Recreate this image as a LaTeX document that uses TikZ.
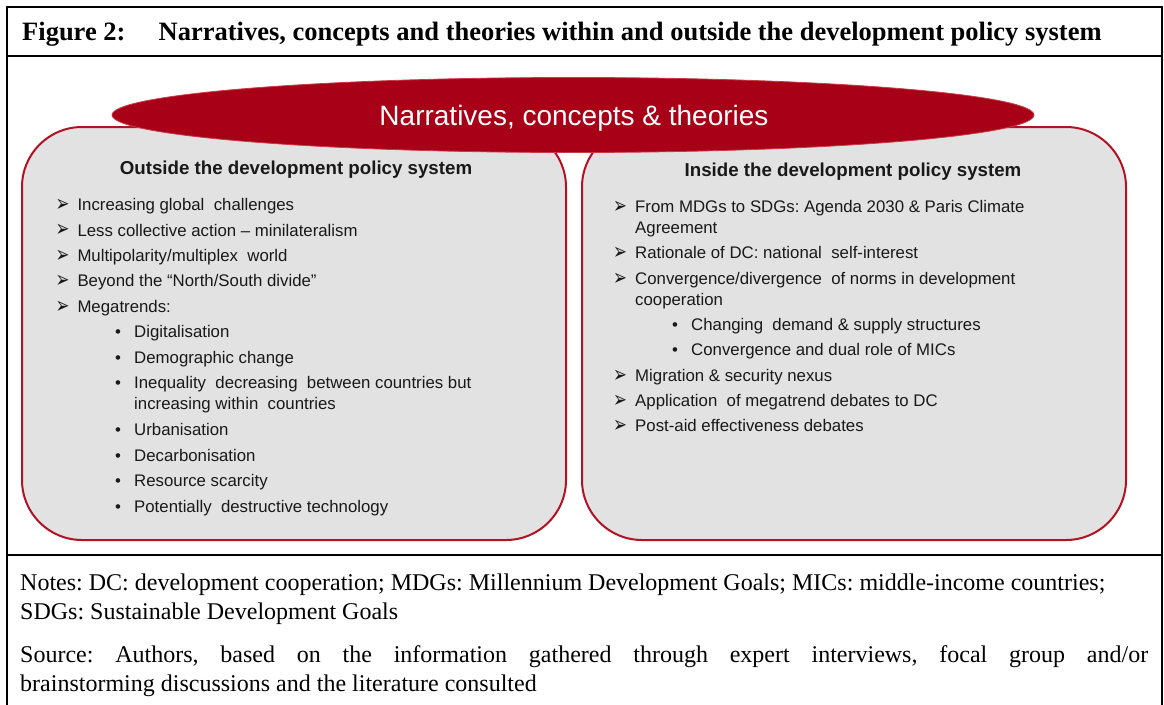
\documentclass[tikz,border=0pt]{standalone}
\usepackage{fontspec}
\setmainfont{Liberation Serif}
\setsansfont{Liberation Sans}
\newfontfamily\symfont{DejaVu Sans}
\usetikzlibrary{shapes.geometric}
\definecolor{ellred}{RGB}{168,0,22}
\definecolor{ellrim}{RGB}{200,60,72}
\definecolor{boxred}{RGB}{178,18,36}
\definecolor{boxgray}{RGB}{226,226,226}
\definecolor{txt}{RGB}{25,25,25}
\frenchspacing
\newcommand{\arrowglyph}{\scalebox{0.72}[1]{➢}}
\begin{document}
\begin{tikzpicture}[x=1pt,y=-1pt,
  frame/.style={line width=2pt,black},
  panel/.style={draw=boxred,line width=2pt,fill=boxgray,rounded corners=60pt,rectangle,inner sep=0pt},
  item/.style={anchor=base west,inner sep=0pt,font=\sffamily\fontsize{16.8}{20}\selectfont,text=txt},
  ptitle/.style={anchor=base,inner sep=0pt,font=\sffamily\bfseries\fontsize{18.7}{22}\selectfont,text=txt},
  arrowb/.style={anchor=base west,inner sep=0pt,font=\symfont\fontsize{23}{24}\selectfont,text=txt},
  dotb/.style={anchor=base west,inner sep=0pt,font=\sffamily\fontsize{16.8}{20}\selectfont,text=txt},
  note/.style={anchor=base west,inner sep=0pt,font=\fontsize{24}{29}\selectfont,text=black},
  head/.style={anchor=base west,inner sep=0pt,font=\bfseries\fontsize{26.5}{30}\selectfont,text=black},
]
\useasboundingbox (0,0) rectangle (1164,704);
\fill[white] (0,0) rectangle (1164,704);
% frame
\draw[frame] (7,720) -- (7,7) -- (1162,7) -- (1162,720);
\draw[frame] (7,56) -- (1162,56);
\draw[frame] (7,555) -- (1162,555);
% header
\node[head] (fig) at (22,40.7) {Figure 2:};
\node[head] (figtitle) at (158.5,40.7) {Narratives, concepts and theories within and outside the development policy system};
% panels
\node[panel,minimum width=544pt,minimum height=413pt] (left) at (294,333.5) {};
\node[panel,minimum width=544pt,minimum height=413pt] (right) at (854,333.5) {};
% ellipse
\node[ellipse,fill=ellred,draw=ellrim,line width=0.8pt,minimum width=922pt,minimum height=75pt,inner sep=0pt] (ell) at (573,115) {};
\node[anchor=base,inner sep=0pt,font=\sffamily\fontsize{28}{32}\selectfont,text=white] (elltext) at (574,125) {Narratives, concepts \& theories};
% left panel
\node[ptitle] (ltitle) at (296,174.5) {Outside the development policy system};
\node[arrowb] (la1) at (55.5,211.5) {\arrowglyph};
\node[item] (lt1) at (77.3,210.7) {Increasing global\ \ challenges};
\node[arrowb] (la2) at (55.5,236.9) {\arrowglyph};
\node[item] (lt2) at (77.3,236.1) {Less collective action – minilateralism};
\node[arrowb] (la3) at (55.5,262.3) {\arrowglyph};
\node[item] (lt3) at (77.3,261.5) {Multipolarity/multiplex\ \ world};
\node[arrowb] (la4) at (55.5,287.7) {\arrowglyph};
\node[item] (lt4) at (77.3,286.9) {Beyond the “North/South divide”};
\node[arrowb] (la5) at (55.5,313.1) {\arrowglyph};
\node[item] (lt5) at (77.3,312.3) {Megatrends:};
\node[dotb] (lb1) at (115,337.7) {•};
\node[item] (ls1) at (134,337.7) {Digitalisation};
\node[dotb] (lb2) at (115,363.1) {•};
\node[item] (ls2) at (134,363.1) {Demographic change};
\node[dotb] (lb3) at (115,388.5) {•};
\node[item] (ls3) at (134,388.5) {Inequality\ \ decreasing\ \ between countries but};
\node[item] (ls3b) at (134,409) {increasing within\ \ countries};
\node[dotb] (lb4) at (115,435.5) {•};
\node[item] (ls4) at (134,435.5) {Urbanisation};
\node[dotb] (lb5) at (115,461) {•};
\node[item] (ls5) at (134,461) {Decarbonisation};
\node[dotb] (lb6) at (115,486.5) {•};
\node[item] (ls6) at (134,486.5) {Resource scarcity};
\node[dotb] (lb7) at (115,512) {•};
\node[item] (ls7) at (134,512) {Potentially\ \ destructive technology};
% right panel
\node[ptitle] (rtitle) at (853,176.5) {Inside the development policy system};
\node[arrowb] (ra1) at (613,213.5) {\arrowglyph};
\node[item] (rt1) at (635,212.7) {From MDGs to SDGs: Agenda 2030 \& Paris Climate};
\node[item] (rt1b) at (635,233.7) {Agreement};
\node[arrowb] (ra2) at (613,259.5) {\arrowglyph};
\node[item] (rt2) at (635,258.7) {Rationale of DC: national\ \ self-interest};
\node[arrowb] (ra3) at (613,285.5) {\arrowglyph};
\node[item] (rt3) at (635,284.7) {Convergence/divergence\ \ of norms in development};
\node[item] (rt3b) at (635,305.7) {cooperation};
\node[dotb] (rb1) at (672,330.7) {•};
\node[item] (rs1) at (691,330.7) {Changing\ \ demand \& supply structures};
\node[dotb] (rb2) at (672,355.7) {•};
\node[item] (rs2) at (691,355.7) {Convergence and dual role of MICs};
\node[arrowb] (ra4) at (613,382.5) {\arrowglyph};
\node[item] (rt4) at (635,381.7) {Migration \& security nexus};
\node[arrowb] (ra5) at (613,407.5) {\arrowglyph};
\node[item] (rt5) at (635,406.7) {Application\ \ of megatrend debates to DC};
\node[arrowb] (ra6) at (613,432.5) {\arrowglyph};
\node[item] (rt6) at (635,431.7) {Post-aid effectiveness debates};
% notes
\node[note] (notes1) at (20,590) {Notes: DC: development cooperation; MDGs: Millennium Development Goals; MICs: middle-income countries;};
\node[note] (notes2) at (20,619) {SDGs: Sustainable Development Goals};
\node[note] (src1) at (20,662) {\makebox[1128pt][s]{Source: Authors, based on the information gathered through expert interviews, focal group and/or}};
\node[note] (src2) at (20,691) {brainstorming discussions and the literature consulted};
\end{tikzpicture}
\end{document}
